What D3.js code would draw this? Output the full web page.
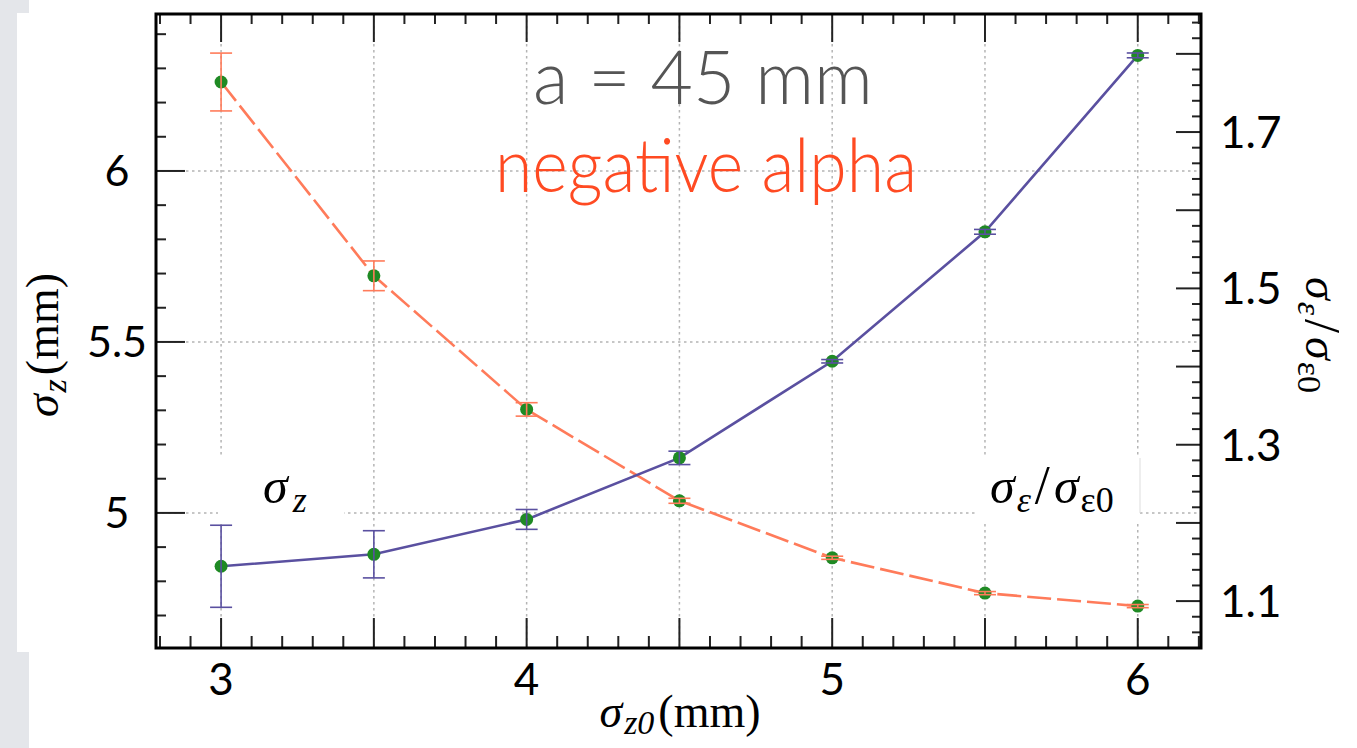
<!DOCTYPE html>
<html>
<head>
<meta charset="utf-8">
<script src="https://cdn.jsdelivr.net/npm/d3@7/dist/d3.min.js"></script>
<style>
html,body{margin:0;padding:0;background:#e4e6ea;}
svg{display:block;}
</style>
</head>
<body>
<svg id="chart" width="1357" height="748"></svg>
<script>
// ---- data ----
const sigmaZ0 = [3, 3.5, 4, 4.5, 5, 5.5, 6];
const sigmaZ = [4.844, 4.879, 4.981, 5.161, 5.4435, 5.822, 6.338];
const sigmaZErr = [0.12, 0.069, 0.029, 0.0196, 0.005, 0.007, 0.007];
const espreadRatio = [1.764, 1.5161, 1.3452, 1.2283, 1.1554, 1.1102, 1.0936];
const espreadRatioErr = [0.037, 0.019, 0.0086, 0.0032, 0.002, 0.002, 0.002];
const xTickLabels = [3, 4, 5, 6];
const leftTickLabels = [5, 5.5, 6];
const rightTickLabels = [1.1, 1.3, 1.5, 1.7];

const svg = d3.select("#chart");
const L = 156, R = 1201, T = 14, B = 648;

// page backgrounds
svg.append("rect").attr("x", 0).attr("y", 0).attr("width", 1357).attr("height", 748).attr("fill", "#e4e6ea");
svg.append("rect").attr("x", 17).attr("y", 13).attr("width", 1340).attr("height", 639).attr("fill", "#fff");
svg.append("rect").attr("x", 29).attr("y", 0).attr("width", 1328).attr("height", 748).attr("fill", "#fff");

const x = d3.scaleLinear().domain([2.787, 6.207]).range([L, R]);
const yL = d3.scaleLinear().domain([4.605, 6.459]).range([B, T]);
const yR = d3.scaleLinear().domain([1.04, 1.851]).range([B, T]);

const grid = svg.append("g").attr("stroke", "#b4b4b4").attr("stroke-width", 1.5).attr("stroke-dasharray", "2.5,3.5");
const xMajor = d3.range(3, 6.01, 0.5);
grid.selectAll(".vg").data(xMajor).join("line")
  .attr("x1", d => x(d)).attr("x2", d => x(d)).attr("y1", T).attr("y2", B);
grid.selectAll(".hg").data(leftTickLabels).join("line")
  .attr("x1", L).attr("x2", R).attr("y1", d => yL(d)).attr("y2", d => yL(d));

// white annotation boxes
svg.append("rect").attr("x", 218).attr("y", 458).attr("width", 126).attr("height", 64).attr("fill", "#fff");
svg.append("rect").attr("x", 977).attr("y", 458).attr("width", 163).attr("height", 64).attr("fill", "#fff");
svg.append("line").attr("x1", 1140).attr("x2", 1140).attr("y1", 458).attr("y2", 513).attr("stroke", "#ddd").attr("stroke-width", 1);

// ticks
const ticks = svg.append("g").attr("stroke", "#222").attr("stroke-width", 2);
const xMinor = d3.range(2.8, 6.21, 0.1).map(v => +v.toFixed(2));
xMinor.forEach(v => {
  const isMaj = Math.abs(v * 2 - Math.round(v * 2)) < 1e-6;
  ticks.append("line").attr("x1", x(v)).attr("x2", x(v)).attr("y1", B).attr("y2", B - (isMaj ? 30 : 12));
  ticks.append("line").attr("x1", x(v)).attr("x2", x(v)).attr("y1", T).attr("y2", T + (isMaj ? 28 : 10));
});
const yLMinor = d3.range(4.7, 6.46, 0.1).map(v => +v.toFixed(2));
yLMinor.forEach(v => {
  const isMaj = Math.abs(v * 2 - Math.round(v * 2)) < 1e-6;
  ticks.append("line").attr("x1", L).attr("x2", L + (isMaj ? 29 : 10)).attr("y1", yL(v)).attr("y2", yL(v));
});
const yRMinor = d3.range(1.04, 1.851, 0.02).map(v => +v.toFixed(3));
yRMinor.forEach(v => {
  const isMaj = Math.abs(v * 10 - Math.round(v * 10)) < 1e-6;
  ticks.append("line").attr("x1", R).attr("x2", R - (isMaj ? 25 : 9)).attr("y1", yR(v)).attr("y2", yR(v));
});

// frame
svg.append("rect").attr("x", L).attr("y", T).attr("width", R - L).attr("height", B - T)
  .attr("fill", "none").attr("stroke", "#000").attr("stroke-width", 3);

// tick labels
const tickFont = "Lato, 'Open Sans', sans-serif";
svg.selectAll(".xl").data(xTickLabels).join("text")
  .attr("x", d => x(d)).attr("y", 695).attr("text-anchor", "middle")
  .attr("font-family", tickFont).attr("font-size", 44).attr("fill", "#000").text(d => d);
svg.selectAll(".yll").data(leftTickLabels).join("text")
  .attr("x", 117).attr("y", d => yL(d) + 15).attr("text-anchor", "middle")
  .attr("font-family", tickFont).attr("font-size", 43).attr("fill", "#000").text(d => d);
svg.selectAll(".yrl").data(rightTickLabels).join("text")
  .attr("x", 1220).attr("y", d => yR(d) + 16).attr("text-anchor", "start")
  .attr("font-family", tickFont).attr("font-size", 44).attr("fill", "#000").text(d => d.toFixed(1));

// series
const blue = "#5a50a0", orange = "#ff7b5a", green = "#1f8a24";
const lineZ = d3.line().x((d, i) => x(sigmaZ0[i])).y(d => yL(d));
const lineR = d3.line().x((d, i) => x(sigmaZ0[i])).y(d => yR(d));
svg.append("path").attr("d", lineR(espreadRatio)).attr("fill", "none").attr("stroke", orange)
  .attr("stroke-width", 2.6).attr("stroke-dasharray", "24,6");
svg.append("path").attr("d", lineZ(sigmaZ)).attr("fill", "none").attr("stroke", blue).attr("stroke-width", 2.6);

// dots
svg.selectAll(".dr").data(espreadRatio).join("circle")
  .attr("cx", (d, i) => x(sigmaZ0[i])).attr("cy", d => yR(d)).attr("r", 6.5).attr("fill", green);
svg.selectAll(".dz").data(sigmaZ).join("circle")
  .attr("cx", (d, i) => x(sigmaZ0[i])).attr("cy", d => yL(d)).attr("r", 6.5).attr("fill", green);

// error bars
function errBars(vals, errs, sc, col) {
  const g = svg.append("g").attr("stroke", col).attr("stroke-width", 1.6);
  vals.forEach((v, i) => {
    const cx = x(sigmaZ0[i]);
    const y1 = sc(v + errs[i]), y2 = sc(v - errs[i]);
    g.append("line").attr("x1", cx).attr("x2", cx).attr("y1", y1).attr("y2", y2);
    g.append("line").attr("x1", cx - 11).attr("x2", cx + 11).attr("y1", y1).attr("y2", y1);
    g.append("line").attr("x1", cx - 11).attr("x2", cx + 11).attr("y1", y2).attr("y2", y2);
  });
}
errBars(espreadRatio, espreadRatioErr, yR, orange);
errBars(sigmaZ, sigmaZErr, yL, blue);

// title texts
svg.append("text").attr("x", 533).attr("y", 104).attr("text-anchor", "start")
  .attr("textLength", 340).attr("lengthAdjust", "spacingAndGlyphs")
  .attr("font-family", tickFont).attr("font-weight", 300).attr("font-size", 74).attr("fill", "#555").text("a = 45 mm");
svg.append("text").attr("x", 495).attr("y", 192).attr("text-anchor", "start")
  .attr("textLength", 422).attr("lengthAdjust", "spacingAndGlyphs")
  .attr("font-family", tickFont).attr("font-weight", 300).attr("font-size", 74).attr("fill", "#ff4a22").text("negative alpha");

// math labels
const serif = "'Liberation Serif', 'DejaVu Serif', serif";
function mathLabel(parent, parts) {
  const t = parent.append("text").attr("font-family", serif).attr("fill", "#000");
  parts.forEach(p => {
    const ts = t.append("tspan").text(p.t);
    if (p.italic) ts.attr("font-style", "italic");
    if (p.size) ts.attr("font-size", p.size);
    if (p.dy) ts.attr("dy", p.dy);
    if (p.dx) ts.attr("dx", p.dx);
  });
  return t;
}
// sigma_z annotation
mathLabel(svg, [{t: "σ", italic: true}, {t: "z", italic: true, size: 36, dy: 9, dx: 5}])
  .attr("x", 263).attr("y", 503).attr("font-size", 50);
// ratio annotation
mathLabel(svg, [{t: "σ", italic: true}, {t: "ε", italic: true, size: 36, dy: 9, dx: 2},
  {t: "/", size: 54, dy: -9, dx: 4}, {t: "σ", italic: true, dx: 4}, {t: "ε0", italic: false, size: 36, dy: 9, dx: 2}])
  .attr("x", 990).attr("y", 503).attr("font-size", 50);

// left axis title
mathLabel(svg, [{t: "σ", italic: true}, {t: "z", italic: true, size: 34, dy: 8, dx: 2}, {t: "(mm)", dy: -8, dx: 4}])
  .attr("font-size", 46).attr("text-anchor", "middle")
  .attr("transform", "translate(58,345) rotate(-90)");
// bottom axis title
mathLabel(svg, [{t: "σ", italic: true}, {t: "z0", italic: true, size: 34, dy: 7, dx: 2}, {t: "(mm)", dy: -7, dx: 4}])
  .attr("font-size", 46).attr("text-anchor", "middle")
  .attr("x", 680).attr("y", 727);
// right axis title
mathLabel(svg, [{t: "σ", italic: true}, {t: "ε", italic: true, size: 34, dy: 8, dx: 2},
  {t: "/", size: 50, dy: -8, dx: 4}, {t: "σ", italic: true, dx: 4}, {t: "ε0", size: 34, dy: 8, dx: 2}])
  .attr("font-size", 46).attr("text-anchor", "middle")
  .attr("transform", "translate(1306,335) rotate(90)");
</script>
</body>
</html>
